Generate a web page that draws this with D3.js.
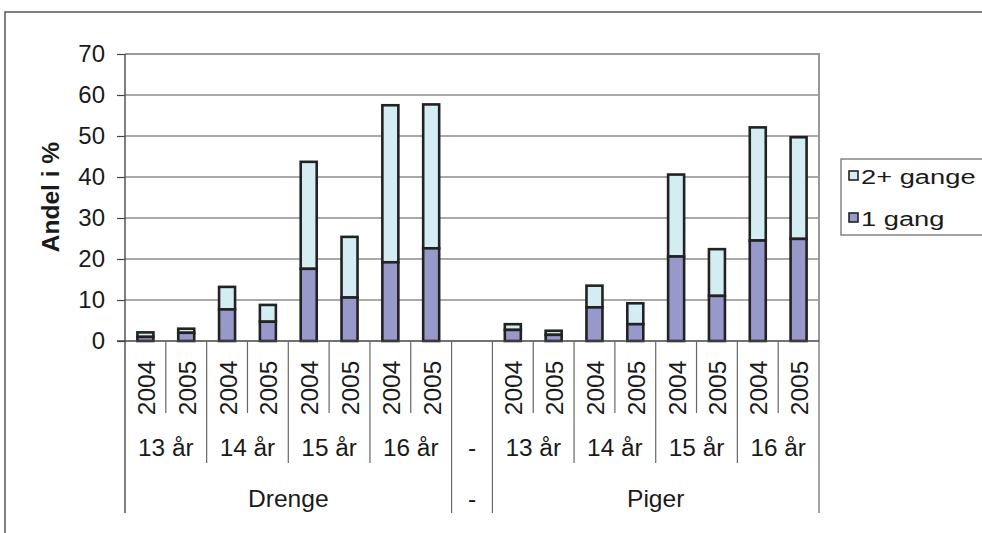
<!DOCTYPE html>
<html><head><meta charset="utf-8">
<script src="https://cdn.jsdelivr.net/npm/d3@7"></script>
<style>body{margin:0;background:#fff;} svg{display:block;font-family:"Liberation Sans",Arial,sans-serif;}</style>
</head><body><svg id="c" width="982" height="533"></svg>
<script>
const groups = ["Drenge", "-", "Piger"];
const ages = ["13 år", "14 år", "15 år", "16 år"];
const years = ["2004", "2005"];
const seriesNames = ["2+ gange", "1 gang"];
// values per slot (Drenge 8, spacer, Piger 8)
const oneGang = [1.0, 2.0, 7.7, 4.7, 17.6, 10.6, 19.2, 22.6, null, 2.7, 1.5, 8.2, 4.1, 20.6, 11.0, 24.5, 24.9];
const twoPlus = [1.1, 1.0, 5.5, 4.1, 26.1, 14.8, 38.3, 35.1, null, 1.4, 1.0, 5.3, 5.1, 20.0, 11.4, 27.6, 24.8];
const yTicks = [0, 10, 20, 30, 40, 50, 60, 70];
const yTitle = "Andel i %";

const colors = {"1 gang": "#9898CB", "2+ gange": "#D3EDF2"};
const ink = "#1a1a1a";

// build slots
const slots = [];
groups.forEach(g => {
  if (g === "-") slots.push({g: g, a: "-", y: ""});
  else ages.forEach(a => years.forEach(yr => slots.push({g: g, a: a, y: yr})));
});
slots.forEach((s, i) => { s.one = oneGang[i]; s.two = twoPlus[i]; s.i = i; });

const svg = d3.select("#c");
const L = 125, R = 819, T = 54, B = 341;
const x = d3.scaleBand().domain(d3.range(slots.length)).range([L, R]).paddingInner(0).paddingOuter(0);
const y = d3.scaleLinear().domain([0, 70]).range([B, T]);

// outer border
svg.append("rect").attr("x", 5).attr("y", 12).attr("width", 1000).attr("height", 600)
  .attr("fill", "none").attr("stroke", "#555").attr("stroke-width", 1.5);

// gridlines
svg.append("g").selectAll("line").data(yTicks.filter(t => t > 0 && t < 70)).join("line")
  .attr("x1", L).attr("x2", R).attr("y1", d => y(d)).attr("y2", d => y(d))
  .attr("stroke", "#555").attr("stroke-width", 1.1);

// plot border top/right
svg.append("path").attr("d", `M${L},${y(70)}H${R}V${B}`).attr("fill", "none")
  .attr("stroke", "#999").attr("stroke-width", 2);

// bars
const bw = 16;
const bars = svg.append("g");
slots.filter(s => s.one != null).forEach(s => {
  const cx = x(s.i) + x.bandwidth() / 2;
  bars.append("rect").attr("x", cx - bw / 2).attr("width", bw)
    .attr("y", y(s.one + s.two)).attr("height", y(s.one) - y(s.one + s.two))
    .attr("fill", colors["2+ gange"]).attr("stroke", "#222").attr("stroke-width", 2.6);
  bars.append("rect").attr("x", cx - bw / 2).attr("width", bw)
    .attr("y", y(s.one)).attr("height", y(0) - y(s.one))
    .attr("fill", colors["1 gang"]).attr("stroke", "#222").attr("stroke-width", 2.6);
});

// y axis
const yAxis = d3.axisLeft(y).tickValues(yTicks).tickSize(8).tickPadding(12).tickFormat(d3.format("d"));
const ya = svg.append("g").attr("transform", `translate(${L},0)`).call(yAxis);
ya.select(".domain").remove();
ya.selectAll(".tick line").attr("stroke", "#444").attr("stroke-width", 1.2);
ya.selectAll(".tick text").attr("font-size", 24).attr("fill", ink)
  .attr("font-family", "Liberation Sans, Arial, sans-serif");

// axis lines
svg.append("line").attr("x1", L).attr("x2", L).attr("y1", T).attr("y2", 513).attr("stroke", "#555").attr("stroke-width", 1.5);
svg.append("line").attr("x1", L - 8).attr("x2", R).attr("y1", B).attr("y2", B).attr("stroke", "#444").attr("stroke-width", 1.5);

// category separators
const sep = svg.append("g").attr("stroke", "#666").attr("stroke-width", 1.2);
for (let i = 1; i <= slots.length; i++) {
  const xb = i < slots.length ? x(i) : R;
  let y2;
  if (i === slots.length || slots[i - 1].g !== slots[i].g) y2 = 513;
  else if (slots[i - 1].a !== slots[i].a) y2 = 463;
  else y2 = 413;
  sep.append("line").attr("x1", xb).attr("x2", xb).attr("y1", B).attr("y2", y2);
}

// year labels (rotated)
svg.append("g").selectAll("text").data(slots.filter(s => s.y)).join("text")
  .attr("transform", s => `translate(${x(s.i) + x.bandwidth() / 2 + 1},388) rotate(-90)`)
  .attr("text-anchor", "middle").attr("dominant-baseline", "central")
  .attr("font-size", 24.5).attr("fill", ink).text(s => s.y);

// age labels
const ageGroups = d3.groups(slots, s => s.g + "|" + s.a);
svg.append("g").selectAll("text").data(ageGroups).join("text")
  .attr("transform", d => {
    const xs = d[1].map(s => s.i);
    const cx = (x(d3.min(xs)) + x(d3.max(xs)) + x.bandwidth()) / 2;
    return `translate(${cx},456) scale(1.06,1)`;
  })
  .attr("text-anchor", "middle").attr("font-size", 23).attr("fill", ink).text(d => d[1][0].a);

// group labels
const grp = d3.groups(slots, s => s.g);
svg.append("g").selectAll("text").data(grp).join("text")
  .attr("transform", d => {
    const xs = d[1].map(s => s.i);
    const cx = (x(d3.min(xs)) + x(d3.max(xs)) + x.bandwidth()) / 2;
    return `translate(${cx},507) scale(1.07,1)`;
  })
  .attr("text-anchor", "middle").attr("font-size", 23).attr("fill", ink).text(d => d[0]);

// y title
svg.append("text").attr("transform", "translate(59,197) rotate(-90)")
  .attr("text-anchor", "middle").attr("font-size", 24.5).attr("font-weight", "bold")
  .attr("fill", ink).text(yTitle);

// legend
const lg = svg.append("g");
lg.append("rect").attr("x", 841).attr("y", 159).attr("width", 200).attr("height", 76)
  .attr("fill", "#fff").attr("stroke", "#666").attr("stroke-width", 1.2);
seriesNames.forEach((n, i) => {
  const cy = 176 + i * 42;
  lg.append("rect").attr("x", 849).attr("y", cy - 5).attr("width", 9).attr("height", 9)
    .attr("fill", colors[n]).attr("stroke", "#222").attr("stroke-width", 1.6);
  lg.append("text").attr("transform", `translate(861,${cy + 7.5}) scale(1.3,1)`)
    .attr("font-size", 21).attr("fill", ink).text(n);
});
</script></body></html>
